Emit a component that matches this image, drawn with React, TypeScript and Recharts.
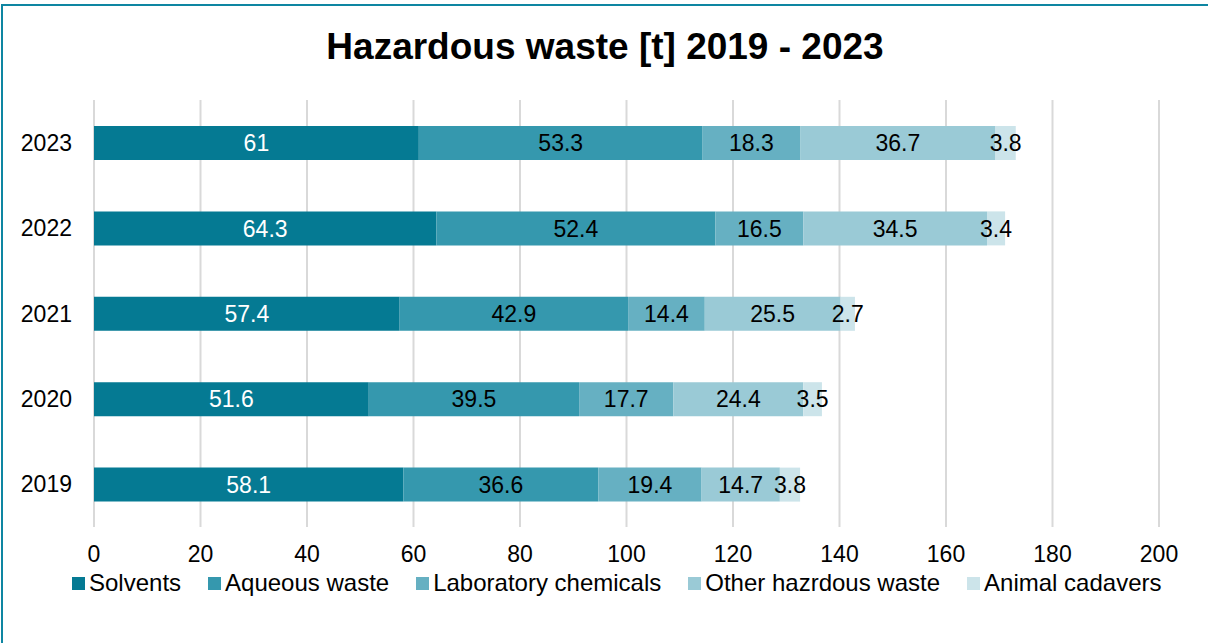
import { Bar, BarChart, CartesianGrid, LabelList, XAxis, YAxis } from "recharts";

const years = ["2023", "2022", "2021", "2020", "2019"];
const solvents = [61, 64.3, 57.4, 51.6, 58.1];
const aqueous = [53.3, 52.4, 42.9, 39.5, 36.6];
const laboratory = [18.3, 16.5, 14.4, 17.7, 19.4];
const otherHazardous = [36.7, 34.5, 25.5, 24.4, 14.7];
const animalCadavers = [3.8, 3.4, 2.7, 3.5, 3.8];
const xTicks = [0, 20, 40, 60, 80, 100, 120, 140, 160, 180, 200];

const series = [
  { key: "solvents", name: "Solvents", color: "#057a93", labelColor: "#ffffff" },
  { key: "aqueous", name: "Aqueous waste", color: "#3598ae", labelColor: "#000000" },
  { key: "laboratory", name: "Laboratory chemicals", color: "#66b0c2", labelColor: "#000000" },
  { key: "other", name: "Other hazrdous waste", color: "#9acad6", labelColor: "#000000" },
  { key: "animal", name: "Animal cadavers", color: "#cce4ea", labelColor: "#000000" },
];

const data = years.map((year, i) => ({
  year,
  solvents: solvents[i],
  aqueous: aqueous[i],
  laboratory: laboratory[i],
  other: otherHazardous[i],
  animal: animalCadavers[i],
}));

const font = "'Liberation Sans', Arial, sans-serif";

export default function App() {
  return (
    <div
      style={{
        position: "absolute",
        left: 0,
        top: 0,
        width: 1208,
        height: 643,
        overflow: "hidden",
        background: "#fff",
        fontFamily: font,
      }}
    >
      <div
        style={{
          position: "absolute",
          left: 1,
          top: 4,
          width: 1220,
          height: 700,
          borderTop: "2px solid #0e86a2",
          borderLeft: "2px solid #0e86a2",
        }}
      />
      <div
        style={{
          position: "absolute",
          left: 0,
          top: 28,
          width: 1210,
          textAlign: "center",
          fontSize: 37,
          lineHeight: 1,
          fontWeight: "bold",
          color: "#000",
        }}
      >
        Hazardous waste [t] 2019 - 2023
      </div>
      <BarChart
        width={1208}
        height={643}
        data={data}
        layout="vertical"
        margin={{ top: 100, right: 49, bottom: 86, left: 0 }}
        barSize={34}
      >
        <CartesianGrid horizontal={false} stroke="#d9d9d9" strokeWidth={2} />
        <XAxis
          type="number"
          domain={[0, 200]}
          ticks={xTicks}
          axisLine={false}
          tickLine={false}
          tickSize={0}
          tickMargin={19}
          tick={{ fontSize: 23, fill: "#000", fontFamily: font }}
        />
        <YAxis
          type="category"
          dataKey="year"
          width={94}
          axisLine={false}
          tickLine={false}
          tickSize={0}
          tickMargin={22}
          tick={{ fontSize: 23, fill: "#000", fontFamily: font }}
        />
        {series.map((s) => (
          <Bar
            key={s.key}
            dataKey={s.key}
            name={s.name}
            stackId="a"
            fill={s.color}
            isAnimationActive={false}
          >
            <LabelList
              dataKey={s.key}
              position="center"
              fill={s.labelColor}
              style={{ fontSize: 23, fontFamily: font }}
            />
          </Bar>
        ))}
      </BarChart>
      <div
        style={{
          position: "absolute",
          left: 72,
          top: 569,
          display: "flex",
          gap: 27,
          fontSize: 24,
          lineHeight: "28px",
          color: "#000",
        }}
      >
        {series.map((s) => (
          <div key={s.key} style={{ display: "flex", alignItems: "center" }}>
            <span
              style={{
                display: "inline-block",
                width: 13,
                height: 13,
                background: s.color,
                marginRight: 4,
              }}
            />
            <span>{s.name}</span>
          </div>
        ))}
      </div>
    </div>
  );
}
